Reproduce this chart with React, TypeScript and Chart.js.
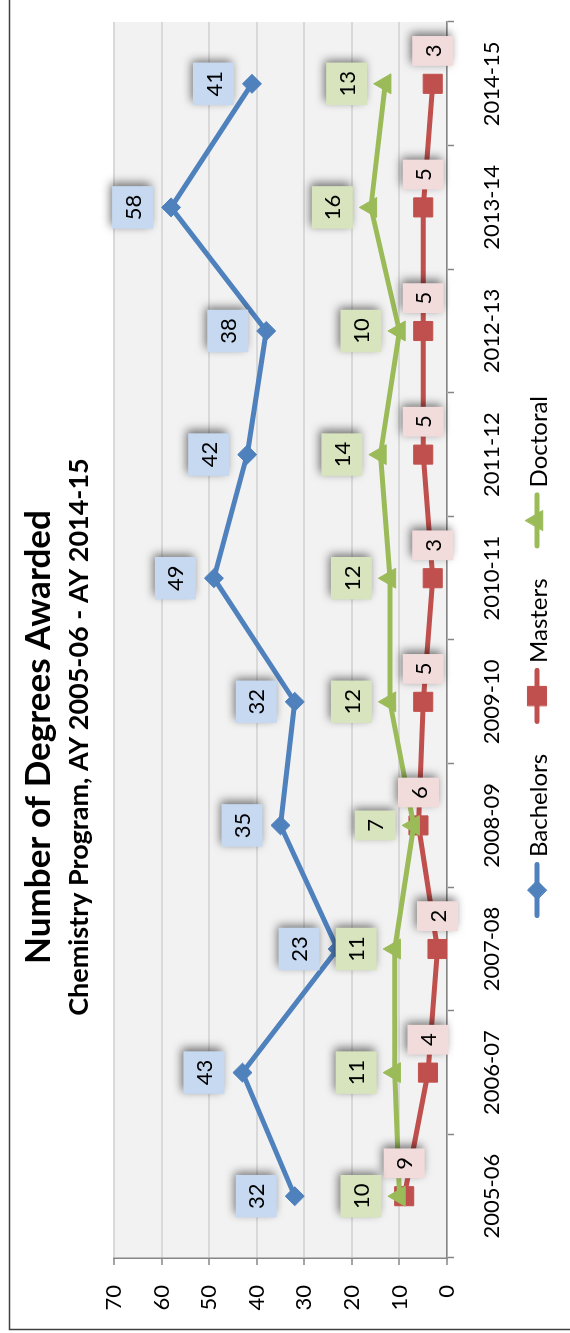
import React, { useEffect, useRef } from "react";
import { Chart, registerables } from "chart.js";
import { drawPoint } from "chart.js/helpers";

Chart.register(...registerables);

// ---------- data ----------
const categories = [
  "2005-06", "2006-07", "2007-08", "2008-09", "2009-10",
  "2010-11", "2011-12", "2012-13", "2013-14", "2014-15",
];
const bachelors = [32, 43, 23, 35, 32, 49, 42, 38, 58, 41];
const masters = [9, 4, 2, 6, 5, 3, 5, 5, 5, 3];
const doctoral = [10, 11, 11, 7, 12, 12, 14, 10, 16, 13];
const valueAxisMin = 0;
const valueAxisMax = 70;
const valueAxisStep = 10;

const chartTitle = "Number of Degrees Awarded";
const chartSubtitle = "Chemistry Program, AY 2005-06 - AY 2014-15";

// ---------- look ----------
const FONT = "Lato, 'Open Sans', sans-serif";
const W = 1333; // chart drawn landscape, then turned a quarter turn
const H = 570;
const AXIS_GRAY = "#868686";

type Series = {
  label: string;
  data: number[];
  color: string;
  tint: string;
  pointStyle: "rectRot" | "rect" | "triangle";
  radius: number;
  labelSide: "above" | "right";
};

const seriesList: Series[] = [
  { label: "Bachelors", data: bachelors, color: "#4F81BD", tint: "#C6D9F1", pointStyle: "rectRot", radius: 9.5, labelSide: "above" },
  { label: "Masters", data: masters, color: "#C0504D", tint: "#F2DCDB", pointStyle: "rect", radius: 13.5, labelSide: "right" },
  { label: "Doctoral", data: doctoral, color: "#9BBB59", tint: "#D7E4BD", pointStyle: "triangle", radius: 11.5, labelSide: "above" },
];

// white page, grey plot area, chart frame edges
const chartFrame = {
  id: "chartFrame",
  beforeDraw(chart: any) {
    const { ctx, chartArea: a, width, height } = chart;
    ctx.save();
    ctx.fillStyle = "#FFFFFF";
    ctx.fillRect(0, 0, width, height);
    ctx.fillStyle = "#F2F2F2";
    ctx.fillRect(a.left, a.top, a.right - a.left, a.bottom - a.top);
    ctx.strokeStyle = "#404040";
    ctx.lineWidth = 1.5;
    ctx.beginPath();
    ctx.moveTo(3.5, height);
    ctx.lineTo(3.5, 9.5);
    ctx.lineTo(width, 9.5);
    ctx.stroke();
    ctx.restore();
  },
};

// value boxes next to each point
const valueLabels = {
  id: "valueLabels",
  afterDatasetsDraw(chart: any) {
    const { ctx } = chart;
    ctx.save();
    ctx.font = `22px ${FONT}`;
    ctx.textAlign = "center";
    ctx.textBaseline = "middle";
    seriesList.forEach((s, i) => {
      const meta = chart.getDatasetMeta(i);
      meta.data.forEach((pt: any, j: number) => {
        const text = String(s.data[j]);
        const tw = ctx.measureText(text).width;
        const w = tw + 17;
        const h = 41;
        let bx: number, by: number;
        if (s.labelSide === "above") {
          bx = pt.x - w / 2;
          by = pt.y - 18 - h;
        } else {
          bx = pt.x + 18;
          by = pt.y - h / 2;
        }
        ctx.save();
        ctx.shadowColor = "rgba(0,0,0,0.55)";
        ctx.shadowBlur = 9;
        ctx.shadowOffsetX = 3;
        ctx.shadowOffsetY = -2;
        ctx.fillStyle = s.tint;
        ctx.fillRect(bx, by, w, h);
        ctx.restore();
        ctx.fillStyle = "#000000";
        ctx.fillText(text, bx + w / 2, by + h / 2 + 1);
      });
    });
    ctx.restore();
  },
};

// titles and legend
const titleAndLegend = {
  id: "titleAndLegend",
  afterDraw(chart: any) {
    const { ctx } = chart;
    ctx.save();
    ctx.fillStyle = "#000000";
    ctx.textAlign = "center";
    ctx.textBaseline = "alphabetic";
    ctx.font = `bold 35px ${FONT}`;
    ctx.fillText(chartTitle, 596, 50);
    ctx.font = `bold 27px ${FONT}`;
    ctx.fillText(chartSubtitle, 596, 88);

    ctx.font = `24px ${FONT}`;
    ctx.textAlign = "left";
    const lineLen = 56;
    const textGap = 5;
    const itemGap = 30;
    const widths = seriesList.map((s) => lineLen + textGap + ctx.measureText(s.label).width);
    const total = widths.reduce((a, b) => a + b, 0) + itemGap * (seriesList.length - 1);
    let x = 676 - total / 2;
    const yLine = 537;
    seriesList.forEach((s, i) => {
      ctx.strokeStyle = s.color;
      ctx.fillStyle = s.color;
      ctx.lineWidth = 5;
      ctx.lineCap = "round";
      ctx.beginPath();
      ctx.moveTo(x + 2.5, yLine);
      ctx.lineTo(x + lineLen - 2.5, yLine);
      ctx.stroke();
      ctx.lineWidth = 1;
      drawPoint(ctx, { pointStyle: s.pointStyle, radius: s.radius, rotation: 0, borderWidth: 1 } as any, x + lineLen / 2, yLine);
      ctx.fillStyle = "#000000";
      ctx.fillText(s.label, x + lineLen + textGap, 547);
      x += widths[i] + itemGap;
    });
    ctx.restore();
  },
};

export default function App() {
  const canvasRef = useRef<HTMLCanvasElement | null>(null);

  useEffect(() => {
    const canvas = canvasRef.current;
    if (!canvas) return;
    const chart = new Chart(canvas, {
      type: "line",
      data: {
        labels: categories,
        datasets: seriesList.map((s, i) => ({
          label: s.label,
          data: s.data,
          borderColor: s.color,
          backgroundColor: s.color,
          borderWidth: 5,
          borderCapStyle: "round",
          borderJoinStyle: "round",
          pointStyle: s.pointStyle,
          pointRadius: s.radius,
          pointHoverRadius: s.radius,
          pointBackgroundColor: s.color,
          pointBorderColor: s.color,
          pointBorderWidth: 1,
          tension: 0,
          fill: false,
          order: seriesList.length - i,
        })),
      },
      options: {
        responsive: false,
        animation: false,
        devicePixelRatio: 1,
        events: [],
        layout: { padding: { left: 0, right: 22, top: 114, bottom: 0 } },
        plugins: {
          legend: { display: false },
          title: { display: false },
          tooltip: { enabled: false },
        },
        scales: {
          x: {
            type: "category",
            offset: true,
            grid: {
              display: true,
              drawOnChartArea: false,
              drawTicks: true,
              tickLength: 7,
              tickColor: AXIS_GRAY,
              tickWidth: 1.5,
              offset: true,
            },
            border: { display: true, color: AXIS_GRAY, width: 1.5 },
            ticks: {
              color: "#000000",
              font: { family: FONT, size: 22 },
              padding: 25,
              maxRotation: 0,
              autoSkip: false,
            },
            afterFit: (scale: any) => {
              scale.height = 123;
            },
          },
          y: {
            min: valueAxisMin,
            max: valueAxisMax,
            grid: {
              color: "#D9D9D9",
              lineWidth: 2,
              drawTicks: true,
              tickLength: 7,
              tickColor: AXIS_GRAY,
              tickWidth: 1.5,
            },
            border: { display: true, color: AXIS_GRAY, width: 1.5 },
            ticks: {
              stepSize: valueAxisStep,
              color: "#000000",
              font: { family: FONT, size: 22 },
              padding: 20,
            },
            afterFit: (scale: any) => {
              scale.width = 75;
            },
          },
        },
      },
      plugins: [chartFrame, valueLabels, titleAndLegend],
    } as any);
    return () => chart.destroy();
  }, []);

  return (
    <div style={{ position: "fixed", left: 0, top: 0, width: H, height: W, overflow: "hidden", background: "#fff" }}>
      <div
        style={{
          position: "absolute",
          left: 0,
          top: 0,
          width: W,
          height: H,
          transformOrigin: "0 0",
          transform: `translateY(${W}px) rotate(-90deg)`,
        }}
      >
        <canvas ref={canvasRef} width={W} height={H} style={{ display: "block", width: W, height: H }} />
      </div>
    </div>
  );
}
